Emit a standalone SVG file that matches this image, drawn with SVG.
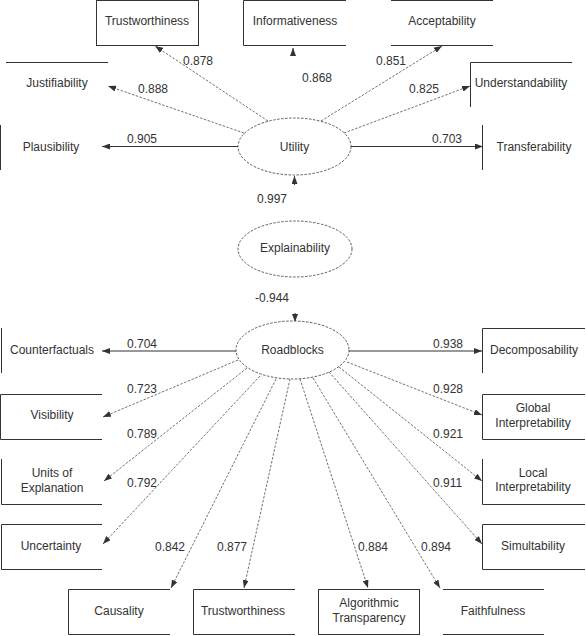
<svg xmlns="http://www.w3.org/2000/svg" width="586" height="636" viewBox="0 0 586 636">
<style>
text{font-family:"Liberation Sans",Arial,sans-serif;font-size:12px;fill:#333;text-anchor:middle}
.lbl{text-anchor:start}
.box{fill:none;stroke:#333;stroke-width:1}
.ell{fill:#fff;stroke:#333;stroke-width:0.8;stroke-dasharray:2.5,1.5}
.d{fill:none;stroke:#333;stroke-width:0.7;stroke-dasharray:2.5,1.5;marker-end:url(#ah)}
.s{fill:none;stroke:#333;stroke-width:1;marker-end:url(#ah)}
.t{fill:none;stroke:#333;stroke-width:1;marker-end:url(#ah)}
</style>
<defs>
<marker id="ah" markerUnits="userSpaceOnUse" markerWidth="9" markerHeight="6" refX="8" refY="3" orient="auto">
<path d="M0,0 L8,3 L0,6 Z" fill="#333"/>
</marker>
</defs>
<rect width="586" height="636" fill="#fff"/>
<g id="connectors">
<line class="d" x1="268" y1="121" x2="155" y2="46"/>
<line class="d" x1="244" y1="133" x2="108" y2="86"/>
<line class="s" x1="238" y1="146.5" x2="102" y2="146.5"/>
<line class="t" x1="293" y1="56" x2="293" y2="48"/>
<line class="d" x1="321" y1="121" x2="442" y2="46"/>
<line class="d" x1="344" y1="133" x2="470" y2="86"/>
<line class="s" x1="351" y1="146.5" x2="483" y2="146.5"/>
<line class="t" x1="294.5" y1="185" x2="294.5" y2="176"/>
<line class="t" x1="295" y1="313" x2="295" y2="322"/>
<line class="s" x1="236" y1="351" x2="102" y2="351"/>
<line class="d" x1="238" y1="360" x2="103" y2="417"/>
<line class="d" x1="247" y1="368" x2="104" y2="481"/>
<line class="d" x1="260" y1="376" x2="103" y2="544"/>
<line class="d" x1="276" y1="379" x2="171" y2="588"/>
<line class="d" x1="290" y1="379" x2="244" y2="588"/>
<line class="d" x1="300" y1="379" x2="368" y2="588"/>
<line class="d" x1="313" y1="378" x2="440" y2="588"/>
<line class="d" x1="329" y1="372" x2="482" y2="544"/>
<line class="d" x1="339" y1="367" x2="482" y2="481"/>
<line class="d" x1="347" y1="362" x2="482" y2="415"/>
<line class="s" x1="349" y1="351" x2="482" y2="351"/>
</g>
<g id="labels">
<text class="lbl" x="183" y="65">0.878</text>
<text class="lbl" x="138" y="93">0.888</text>
<text class="lbl" x="127" y="143">0.905</text>
<text class="lbl" x="302" y="82">0.868</text>
<text class="lbl" x="376" y="65">0.851</text>
<text class="lbl" x="409" y="93">0.825</text>
<text class="lbl" x="432" y="143">0.703</text>
<text class="lbl" x="257" y="203">0.997</text>
<text class="lbl" x="255" y="302">-0.944</text>
<text class="lbl" x="127" y="348">0.704</text>
<text class="lbl" x="127" y="393">0.723</text>
<text class="lbl" x="127" y="438">0.789</text>
<text class="lbl" x="127" y="487">0.792</text>
<text class="lbl" x="155" y="551">0.842</text>
<text class="lbl" x="217" y="551">0.877</text>
<text class="lbl" x="358" y="551">0.884</text>
<text class="lbl" x="421" y="551">0.894</text>
<text class="lbl" x="433" y="348">0.938</text>
<text class="lbl" x="433" y="393">0.928</text>
<text class="lbl" x="433" y="438">0.921</text>
<text class="lbl" x="433" y="487">0.911</text>
</g>
<g id="utility"><ellipse class="ell" cx="294.5" cy="146.5" rx="56.5" ry="28.5"/><text x="294.5" y="150.5">Utility</text></g>
<g id="explainability"><ellipse class="ell" cx="295" cy="249" rx="57" ry="28"/><text x="295" y="252">Explainability</text></g>
<g id="roadblocks"><ellipse class="ell" cx="292.5" cy="350" rx="56.5" ry="29"/><text x="292.5" y="354">Roadblocks</text></g>
<g id="trustworthiness-top"><rect class="box" x="96.5" y="0.5" width="102" height="45"/><text x="147" y="25">Trustworthiness</text></g>
<g id="informativeness"><path class="box" d="M346,0.5 H243.5 V45.5 H346"/><text x="295" y="25">Informativeness</text></g>
<g id="acceptability"><path class="box" d="M391,0.5 H493 M391,45.5 H493"/><text x="442" y="25">Acceptability</text></g>
<g id="justifiability"><path class="box" d="M6,62.5 H108"/><text x="57" y="87">Justifiability</text></g>
<g id="plausibility"><path class="box" d="M0.5,125 V170"/><text x="51" y="151">Plausibility</text></g>
<g id="understandability"><path class="box" d="M572,62.5 H470.5 V107"/><text x="521" y="87">Understandability</text></g>
<g id="transferability"><path class="box" d="M482.5,125 V170"/><text x="534" y="151">Transferability</text></g>
<g id="counterfactuals"><path class="box" d="M1.5,328 V373"/><text x="52" y="354">Counterfactuals</text></g>
<g id="visibility"><path class="box" d="M102,394.5 H0.5 V439.5 H102"/><text x="52" y="419">Visibility</text></g>
<g id="units-of-explanation"><path class="box" d="M1.5,459 V504.5 H102"/><text x="52" y="477">Units of</text><text x="52" y="492">Explanation</text></g>
<g id="uncertainty"><path class="box" d="M102,524.5 H1.5 V569.5 H102"/><text x="51" y="550">Uncertainty</text></g>
<g id="causality"><path class="box" d="M170,589.5 H68.5 V634.5 H170"/><text x="119" y="615">Causality</text></g>
<g id="trustworthiness-bottom"><path class="box" d="M295,589.5 H193.5 V634.5 H295"/><text x="243" y="615">Trustworthiness</text></g>
<g id="algorithmic-transparency"><rect class="box" x="318.5" y="589.5" width="101" height="45"/><text x="369" y="607">Algorithmic</text><text x="369" y="622">Transparency</text></g>
<g id="faithfulness"><path class="box" d="M443,589.5 H544 M443,634.5 H544"/><text x="493" y="615">Faithfulness</text></g>
<g id="simultability"><path class="box" d="M585,524.5 H482.5 V569.5 H585"/><text x="533" y="550">Simultability</text></g>
<g id="local-interpretability"><path class="box" d="M482.5,459 V504.5 H585"/><text x="533" y="477">Local</text><text x="533" y="491">Interpretability</text></g>
<g id="global-interpretability"><path class="box" d="M585,394.5 H482.5 V439.5 H585"/><text x="533" y="412">Global</text><text x="533" y="427">Interpretability</text></g>
<g id="decomposability"><path class="box" d="M585,328.5 H482.5 V373"/><text x="534" y="354">Decomposability</text></g>
</svg>
